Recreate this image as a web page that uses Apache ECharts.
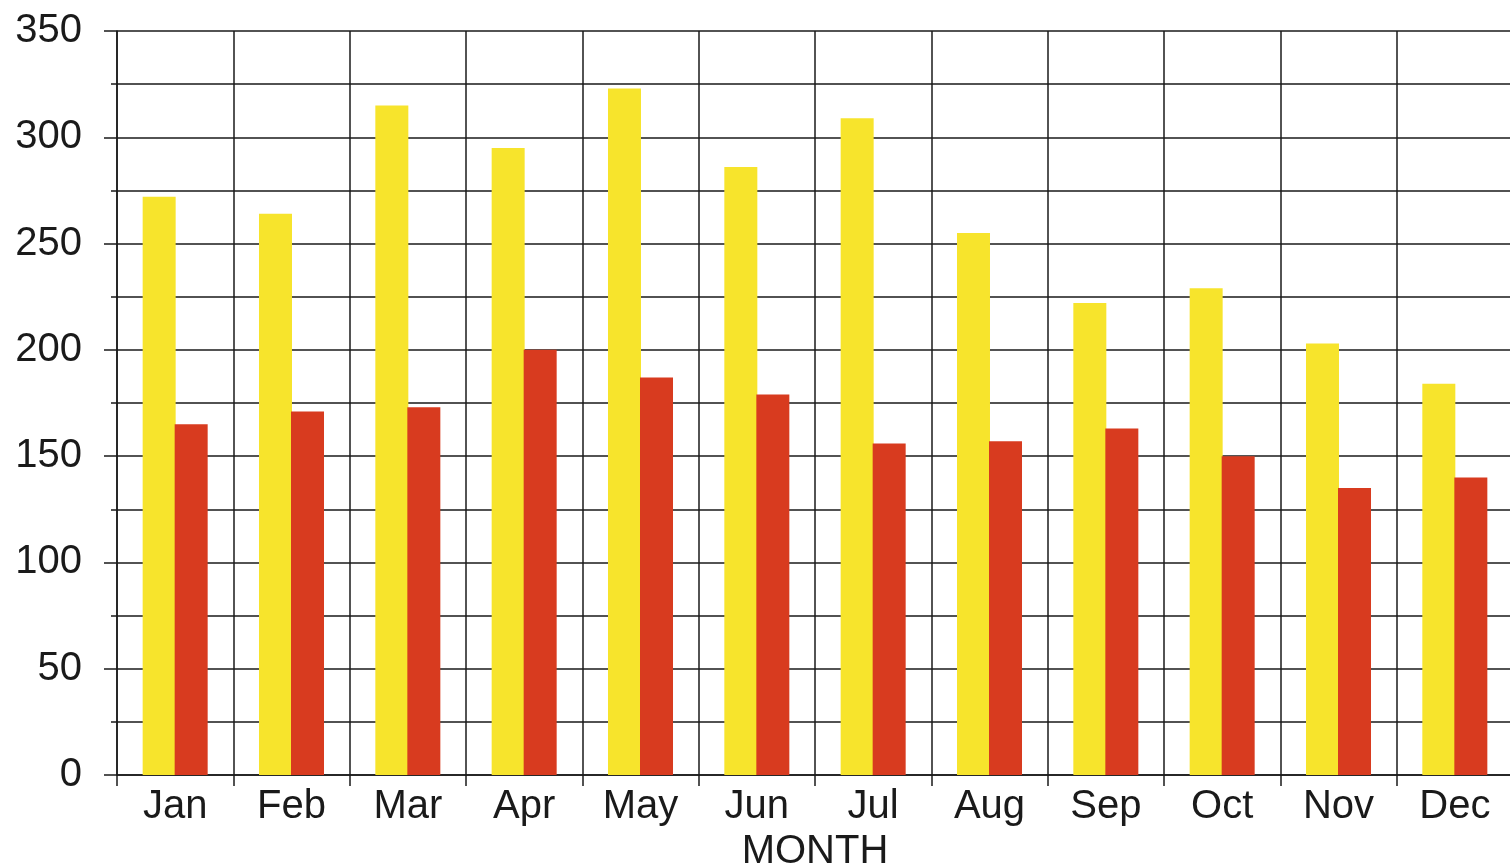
<!DOCTYPE html>
<html>
<head>
<meta charset="utf-8">
<script src="https://cdn.jsdelivr.net/npm/echarts@6/dist/echarts.min.js"></script>
<style>
  html, body { margin: 0; padding: 0; background: #ffffff; }
  #chart { width: 1510px; height: 867px; }
</style>
</head>
<body>
<div id="chart"></div>
<script>
const months = ['Jan', 'Feb', 'Mar', 'Apr', 'May', 'Jun', 'Jul', 'Aug', 'Sep', 'Oct', 'Nov', 'Dec'];
const yellowValues = [272, 264, 315, 295, 323, 286, 309, 255, 222, 229, 203, 184];
const redValues = [165, 171, 173, 200, 187, 179, 156, 157, 163, 150, 135, 140];
const yTickMin = 0;
const yTickMax = 350;
const yTickStep = 50;
const xAxisTitle = 'MONTH';

const FONT = '"Liberation Sans", Arial, sans-serif';
const INK = '#1a1a1a';

const chart = echarts.init(document.getElementById('chart'), null, { renderer: 'canvas' });
chart.setOption({
  backgroundColor: '#ffffff',
  animation: false,
  grid: { left: 117, right: -3, top: 31, bottom: 92, containLabel: false, outerBoundsMode: 'none' },
  xAxis: {
    type: 'category',
    data: months,
    boundaryGap: true,
    name: xAxisTitle,
    nameLocation: 'middle',
    nameGap: 57,
    nameTextStyle: { fontFamily: FONT, fontSize: 40, color: INK },
    axisLine: { show: true, lineStyle: { color: INK, width: 1.5 } },
    axisTick: { show: true, length: 11, lineStyle: { color: INK, width: 1.5 } },
    axisLabel: { fontFamily: FONT, fontSize: 40, color: INK, margin: 12 },
    splitLine: { show: true, lineStyle: { color: INK, width: 1.5 } }
  },
  yAxis: {
    type: 'value',
    min: yTickMin,
    max: yTickMax,
    interval: yTickStep,
    axisLine: { show: true, lineStyle: { color: INK, width: 1.5 } },
    axisTick: { show: true, length: 13, lineStyle: { color: INK, width: 1.5 } },
    minorTick: { show: true, splitNumber: 2, length: 6, lineStyle: { color: INK, width: 1.5 } },
    axisLabel: { fontFamily: FONT, fontSize: 40, color: INK, margin: 35, padding: [0, 0, 16, 0] },
    splitLine: { show: true, lineStyle: { color: INK, width: 1.5 } },
    minorSplitLine: { show: true, lineStyle: { color: INK, width: 1.5 } }
  },
  series: [
    {
      type: 'bar',
      data: yellowValues,
      barWidth: 33,
      barGap: '-3%',
      itemStyle: { color: '#f7e42c' },
      z: 3
    },
    {
      type: 'bar',
      data: redValues,
      barWidth: 33,
      barGap: '-3%',
      itemStyle: { color: '#d83b1f' },
      z: 4
    }
  ]
});
</script>
</body>
</html>
